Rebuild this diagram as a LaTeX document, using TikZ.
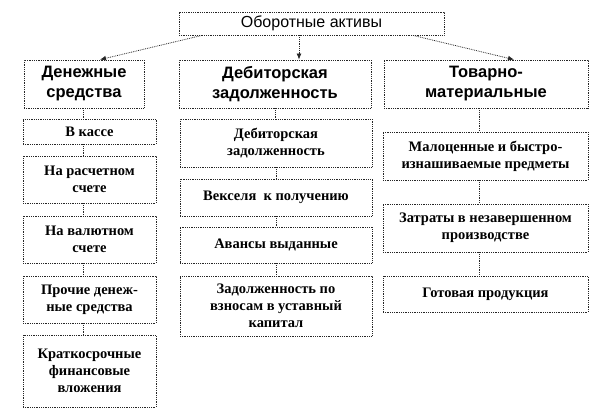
\documentclass[tikz,border=0pt]{standalone}
\usepackage{fontspec}
\setmainfont{Liberation Serif}
\setsansfont{Liberation Sans}
\usepackage{tikz}
\usetikzlibrary{arrows.meta}

\begin{document}
\begin{tikzpicture}[x=1pt,y=-1pt,
    box/.style={draw=black!85, densely dotted, line width=0.8pt, inner sep=0pt, align=center},
    head/.style={box, minimum height=48pt, font=\sffamily\bfseries\fontsize{16.5}{20}\selectfont},
    item/.style={box, font=\bfseries\fontsize{14.5}{17}\selectfont},
    link/.style={black!85, densely dotted, line width=0.8pt},
    arr/.style={link, -{Latex[length=6pt,width=5pt]}}]
       \useasboundingbox (0,0) rectangle (612,411);

       \node[box, minimum width=265pt, minimum height=23pt, font=\sffamily\fontsize{16}{18}\selectfont] (top) at (311.5,23.5) {Оборотные активы};

       \node[head, minimum width=120pt] (cash) at (84,84) {Денежные\\средства};
       \node[head, minimum width=192pt] (debt) at (275,84) {Дебиторская\\задолженность};
       \node[head, minimum width=204pt] (goods) at (486,84) {Товарно-\\материальные};

       \draw[arr] ([xshift=-109.5pt]top.south) -- ([xshift=16pt]cash.north);
       \draw[arr] ([xshift=-12.5pt]top.south) -- ([xshift=24pt]debt.north);
       \draw[arr] ([xshift=101.5pt]top.south) -- ([xshift=28pt]goods.north);

       % денежные средства
       \node[item, minimum width=133pt, minimum height=25pt] (cash1) at (89.5,131.5) {В кассе};
       \node[item, minimum width=133pt, minimum height=47pt] (cash2) at (89.5,179.5) {На расчетном\\счете};
       \node[item, minimum width=133pt, minimum height=47pt] (cash3) at (89.5,239.5) {На валютном\\счете};
       \node[item, minimum width=133pt, minimum height=47pt] (cash4) at (89.5,299.5) {Прочие денеж-\\ные средства};
       \node[item, minimum width=133pt, minimum height=72pt] (cash5) at (89.5,371) {Краткосрочные\\финансовые\\вложения};

       \draw[link] ([xshift=-1pt]cash.south) -- ([xshift=-1pt]cash.south |- cash1.north);
       \draw[link] ([xshift=-1pt]cash.south |- cash1.south) -- ([xshift=-1pt]cash.south |- cash2.north);
       \draw[link] ([xshift=-1pt]cash.south |- cash2.south) -- ([xshift=-1pt]cash.south |- cash3.north);
       \draw[link] ([xshift=-1pt]cash.south |- cash3.south) -- ([xshift=-1pt]cash.south |- cash4.north);
       \draw[link] ([xshift=-1pt]cash.south |- cash4.south) -- ([xshift=-1pt]cash.south |- cash5.north);

       % дебиторская задолженность
       \node[item, minimum width=192pt, minimum height=48pt] (debt1) at (276,143) {Дебиторская\\задолженность};
       \node[item, minimum width=192pt, minimum height=37pt] (debt2) at (276,197.5) {Векселя~ к получению};
       \node[item, minimum width=192pt, minimum height=36pt] (debt3) at (276,245) {Авансы выданные};
       \node[item, minimum width=192pt, minimum height=60pt] (debt4) at (276,306) {Задолженность по\\взносам в уставный\\капитал};

       \draw[link] (debt.south) -- (debt.south |- debt1.north);
       \draw[link] (debt1.south) -- (debt2.north);
       \draw[link] (debt2.south) -- (debt3.north);
       \draw[link] (debt3.south) -- (debt4.north);

       % товарно-материальные
       \node[item, minimum width=205pt, minimum height=48pt] (goods1) at (485.5,156) {Малоценные и быстро-\\изнашиваемые предметы};
       \node[item, minimum width=205pt, minimum height=48pt] (goods2) at (485.5,228) {Затраты в незавершенном\\производстве};
       \node[item, minimum width=205pt, minimum height=36pt] (goods3) at (485.5,294) {Готовая продукция};

       \draw[link] ([xshift=-7pt]goods.south) -- ([xshift=-7pt]goods.south |- goods1.north);
       \draw[link] ([xshift=-7pt]goods.south |- goods1.south) -- ([xshift=-7pt]goods.south |- goods2.north);
       \draw[link] ([xshift=-7pt]goods.south |- goods2.south) -- ([xshift=-7pt]goods.south |- goods3.north);
      \end{tikzpicture}
\end{document}
